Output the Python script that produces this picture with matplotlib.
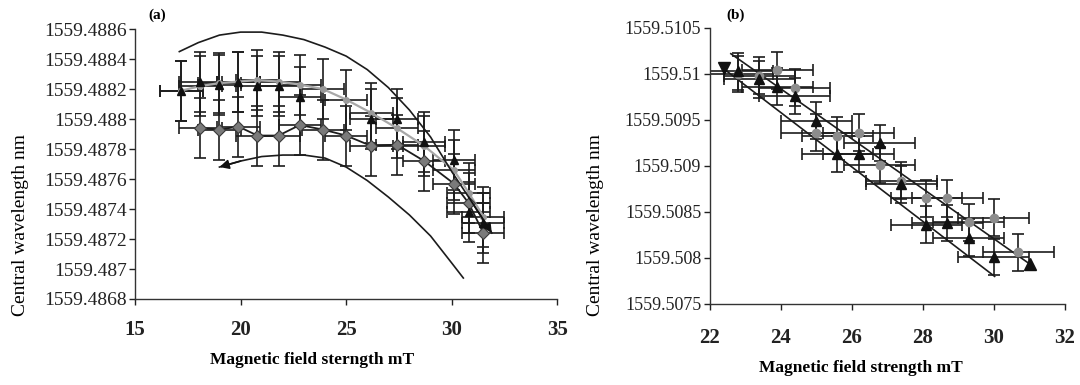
import matplotlib
matplotlib.use("Agg")
import matplotlib.pyplot as plt

plt.rcParams['font.family'] = ['Liberation Serif', 'DejaVu Serif']

# ---- panel (a) ----
a_tri_x = [17.2, 18.1, 19.0, 19.9, 20.8, 21.8, 22.8, 26.2, 27.4, 28.7, 30.1, 30.8, 31.5]
a_tri_y = [1559.48819, 1559.48825, 1559.48823, 1559.48825, 1559.48822, 1559.48822, 1559.48815,
           1559.48800, 1559.48800, 1559.48785, 1559.48773, 1559.48738, 1559.48731]

a_gray_x = [17.2, 18.1, 19.0, 19.9, 20.8, 21.8, 22.8, 23.9, 25.0, 26.2, 27.4, 28.7, 30.1, 30.8, 31.5]
a_gray_y = [1559.48819, 1559.48822, 1559.48824, 1559.48825, 1559.48826, 1559.48825, 1559.48823,
            1559.48820, 1559.48813, 1559.48804, 1559.48794, 1559.48782, 1559.48766, 1559.48751, 1559.48735]

a_dia_x = [18.1, 19.0, 19.9, 20.8, 21.8, 22.8, 23.9, 25.0, 26.2, 27.4, 28.7, 30.1, 30.8, 31.5]
a_dia_y = [1559.48794, 1559.48793, 1559.48795, 1559.48789, 1559.48789, 1559.48796, 1559.48793,
           1559.48789, 1559.48782, 1559.48783, 1559.48772, 1559.48757, 1559.48744, 1559.48724]

# guide arcs (hysteresis direction)
a_arc_up_x = [17.1, 18.0, 19.0, 20.0, 21.0, 22.0, 23.0, 24.0, 25.0, 26.0, 27.0, 28.0, 29.0, 30.0, 30.8, 31.9]
a_arc_up_y = [1559.48845, 1559.48851, 1559.48856, 1559.48858, 1559.48858, 1559.48856, 1559.48853,
              1559.48848, 1559.48842, 1559.48833, 1559.48821, 1559.48806, 1559.48788, 1559.48765,
              1559.48748, 1559.48724]
a_arc_lo_x = [19.0, 20.0, 21.0, 22.0, 23.0, 24.0, 25.0, 26.0, 27.0, 28.0, 29.0, 30.0, 30.55]
a_arc_lo_y = [1559.48768, 1559.48772, 1559.48775, 1559.48776, 1559.48776, 1559.48774, 1559.48768,
              1559.48759, 1559.48748, 1559.48736, 1559.48722, 1559.48704, 1559.48694]

a_yticks = [1559.4868, 1559.4870, 1559.4872, 1559.4874, 1559.4876, 1559.4878,
            1559.4880, 1559.4882, 1559.4884, 1559.4886]
a_xticks = [15, 20, 25, 30, 35]

# ---- panel (b) ----
b_tri_x = [22.8, 23.4, 23.9, 24.4, 25.0, 25.6, 26.2, 26.8, 27.4, 28.1, 28.7, 29.3, 30.0]
b_tri_y = [1559.51003, 1559.50994, 1559.50986, 1559.50976, 1559.50949, 1559.50913, 1559.50913,
           1559.50925, 1559.50880, 1559.50836, 1559.50838, 1559.50822, 1559.50801]

b_circ_x = [22.8, 23.4, 23.9, 24.4, 25.0, 25.6, 26.2, 26.8, 27.4, 28.1, 28.7, 29.3, 30.0, 30.7]
b_circ_y = [1559.51000, 1559.50998, 1559.51004, 1559.50985, 1559.50936, 1559.50933, 1559.50936,
            1559.50901, 1559.50884, 1559.50865, 1559.50865, 1559.50839, 1559.50844, 1559.50806]

b_start = (22.42, 1559.51006)
b_end = (31.03, 1559.50793)

b_line_up_x = [22.6, 31.0]
b_line_up_y = [1559.51022, 1559.50794]
b_line_lo_x = [22.42, 30.03]
b_line_lo_y = [1559.51005, 1559.50780]

b_yticks = [1559.5075, 1559.5080, 1559.5085, 1559.5090, 1559.5095, 1559.5100, 1559.5105]
b_xticks = [22, 24, 26, 28, 30, 32]

x_err = 1.0
y_err = 0.0002
ink = '#1c1c1c'


def fmt(v):
    return f"{v:.4f}".rstrip('0').rstrip('.')


def style_axes(ax, xticks, yticks, ysize, xpad):
    for s in ['top', 'right']:
        ax.spines[s].set_visible(False)
    for s in ['left', 'bottom']:
        ax.spines[s].set_color('#333333')
        ax.spines[s].set_linewidth(1.0)
    ax.set_xticks(xticks)
    ax.set_xticklabels([str(t) for t in xticks], fontsize=15, fontweight='bold')
    ax.set_yticks(yticks)
    ax.set_yticklabels([fmt(t) for t in yticks], fontsize=ysize)
    ax.tick_params(axis='both', direction='out', length=4, width=1, colors='#222222')
    ax.tick_params(axis='y', pad=2)
    ax.tick_params(axis='x', pad=xpad)


fig = plt.figure(figsize=(10.8, 3.85), dpi=100)
axa = fig.add_axes([0.125, 0.2234, 0.391, 0.701])
axb = fig.add_axes([0.657, 0.2104, 0.3287, 0.717])

eb = dict(fmt='none', ecolor=ink, elinewidth=1.2, capsize=4, capthick=1.2, zorder=2)

# panel (a)
axa.errorbar(a_gray_x, a_gray_y, xerr=x_err, yerr=y_err, **eb)
axa.errorbar(a_tri_x, a_tri_y, xerr=x_err, yerr=y_err, **eb)
axa.errorbar(a_dia_x, a_dia_y, xerr=x_err, yerr=y_err, **eb)
axa.plot(a_gray_x, a_gray_y, color='#a8a8a8', lw=1.6, marker='o', ms=4,
         mfc='#9a9a9a', mec='#9a9a9a', zorder=3)
axa.plot(a_dia_x, a_dia_y, color=ink, lw=1.3, zorder=3)
axa.plot(a_dia_x, a_dia_y, 'D', ms=6, mfc='#7a7a7a', mec='#3a3a3a', mew=0.8, zorder=4)
axa.plot(a_tri_x, a_tri_y, '^', ms=6, color='#111111', zorder=5)
axa.plot(a_arc_up_x, a_arc_up_y, color=ink, lw=1.2, zorder=3)
axa.plot(a_arc_lo_x, a_arc_lo_y, color=ink, lw=1.2, zorder=3)
arrow = dict(arrowstyle='-|>', color='#111111', lw=1.2, mutation_scale=14, shrinkA=0, shrinkB=0)
axa.annotate('', xy=(a_arc_up_x[-1], a_arc_up_y[-1]), xytext=(a_arc_up_x[-2], a_arc_up_y[-2]),
             arrowprops=arrow, zorder=6)
axa.annotate('', xy=(a_arc_lo_x[0], a_arc_lo_y[0]), xytext=(a_arc_lo_x[1], a_arc_lo_y[1]),
             arrowprops=arrow, zorder=6)
axa.set_xlim(15, 35)
axa.set_ylim(a_yticks[0], a_yticks[-1])
style_axes(axa, a_xticks, a_yticks, 14, 11)

# panel (b)
axb.plot(b_line_up_x, b_line_up_y, color=ink, lw=1.2, zorder=3)
axb.plot(b_line_lo_x, b_line_lo_y, color=ink, lw=1.2, zorder=3)
axb.errorbar(b_circ_x, b_circ_y, xerr=x_err, yerr=y_err, **eb)
axb.errorbar(b_tri_x, b_tri_y, xerr=x_err, yerr=y_err, **eb)
axb.plot(b_circ_x, b_circ_y, 'o', ms=6, mfc='#8c8c8c', mec='#8c8c8c', zorder=4)
axb.plot(b_tri_x, b_tri_y, '^', ms=7, color='#111111', zorder=5)
axb.plot([b_start[0]], [b_start[1]], 'v', ms=8, color='#111111', zorder=5)
axb.plot([b_end[0]], [b_end[1]], '^', ms=8, color='#111111', zorder=5)
axb.set_xlim(22, 32)
axb.set_ylim(b_yticks[0], b_yticks[-1])
style_axes(axb, b_xticks, b_yticks, 13, 13)

# labels
fig.text(0.019, 0.416, 'Central wavelength nm', rotation=90, ha='center', va='center', fontsize=14)
fig.text(0.551, 0.416, 'Central wavelength nm', rotation=90, ha='center', va='center', fontsize=14)
fig.text(0.289, 0.065, 'Magnetic field sterngth mT', ha='center', va='center', fontsize=12.5, fontweight='bold')
fig.text(0.797, 0.045, 'Magnetic field strength mT', ha='center', va='center', fontsize=12.5, fontweight='bold')
fig.text(0.146, 0.961, '(a)', ha='center', va='center', fontsize=11, fontweight='bold')
fig.text(0.681, 0.961, '(b)', ha='center', va='center', fontsize=11, fontweight='bold')

fig.savefig('out.png', dpi=100)
